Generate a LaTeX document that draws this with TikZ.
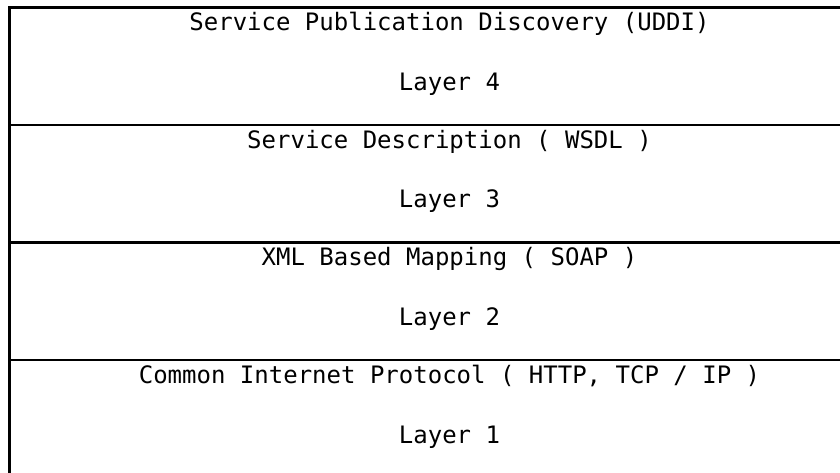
\documentclass[tikz,border=0pt]{standalone}
\usepackage{fontspec}
\setmonofont{DejaVu Sans Mono}

\begin{document}
\begin{tikzpicture}[x=0.75pt, y=0.75pt, line width=1.7pt,
    layer/.style = {draw, rectangle, minimum width=660pt, minimum height=88.125pt, inner sep=0pt},
    txt/.style = {anchor=base, inner sep=0pt, font=\ttfamily\fontsize{18pt}{22pt}\selectfont}]
        \clip (0,0) rectangle (840,472);
        \foreach \n/\name in {4/Service Publication Discovery (UDDI), 3/Service Description ( WSDL ),
            2/XML Based Mapping ( SOAP ), 1/{Common Internet Protocol ( HTTP, TCP / IP )}}{
            \node[layer] (l\n) at (449.5, {472-7.5-117.5*(4-\n)-58.75}) {};
            \node[txt] (t\n) at (449.5, {472-7.5-117.5*(4-\n)-23.5}) {\name};
            \node[txt] (n\n) at (449.5, {472-7.5-117.5*(4-\n)-83}) {Layer \n};
        }
    \end{tikzpicture}
\end{document}
